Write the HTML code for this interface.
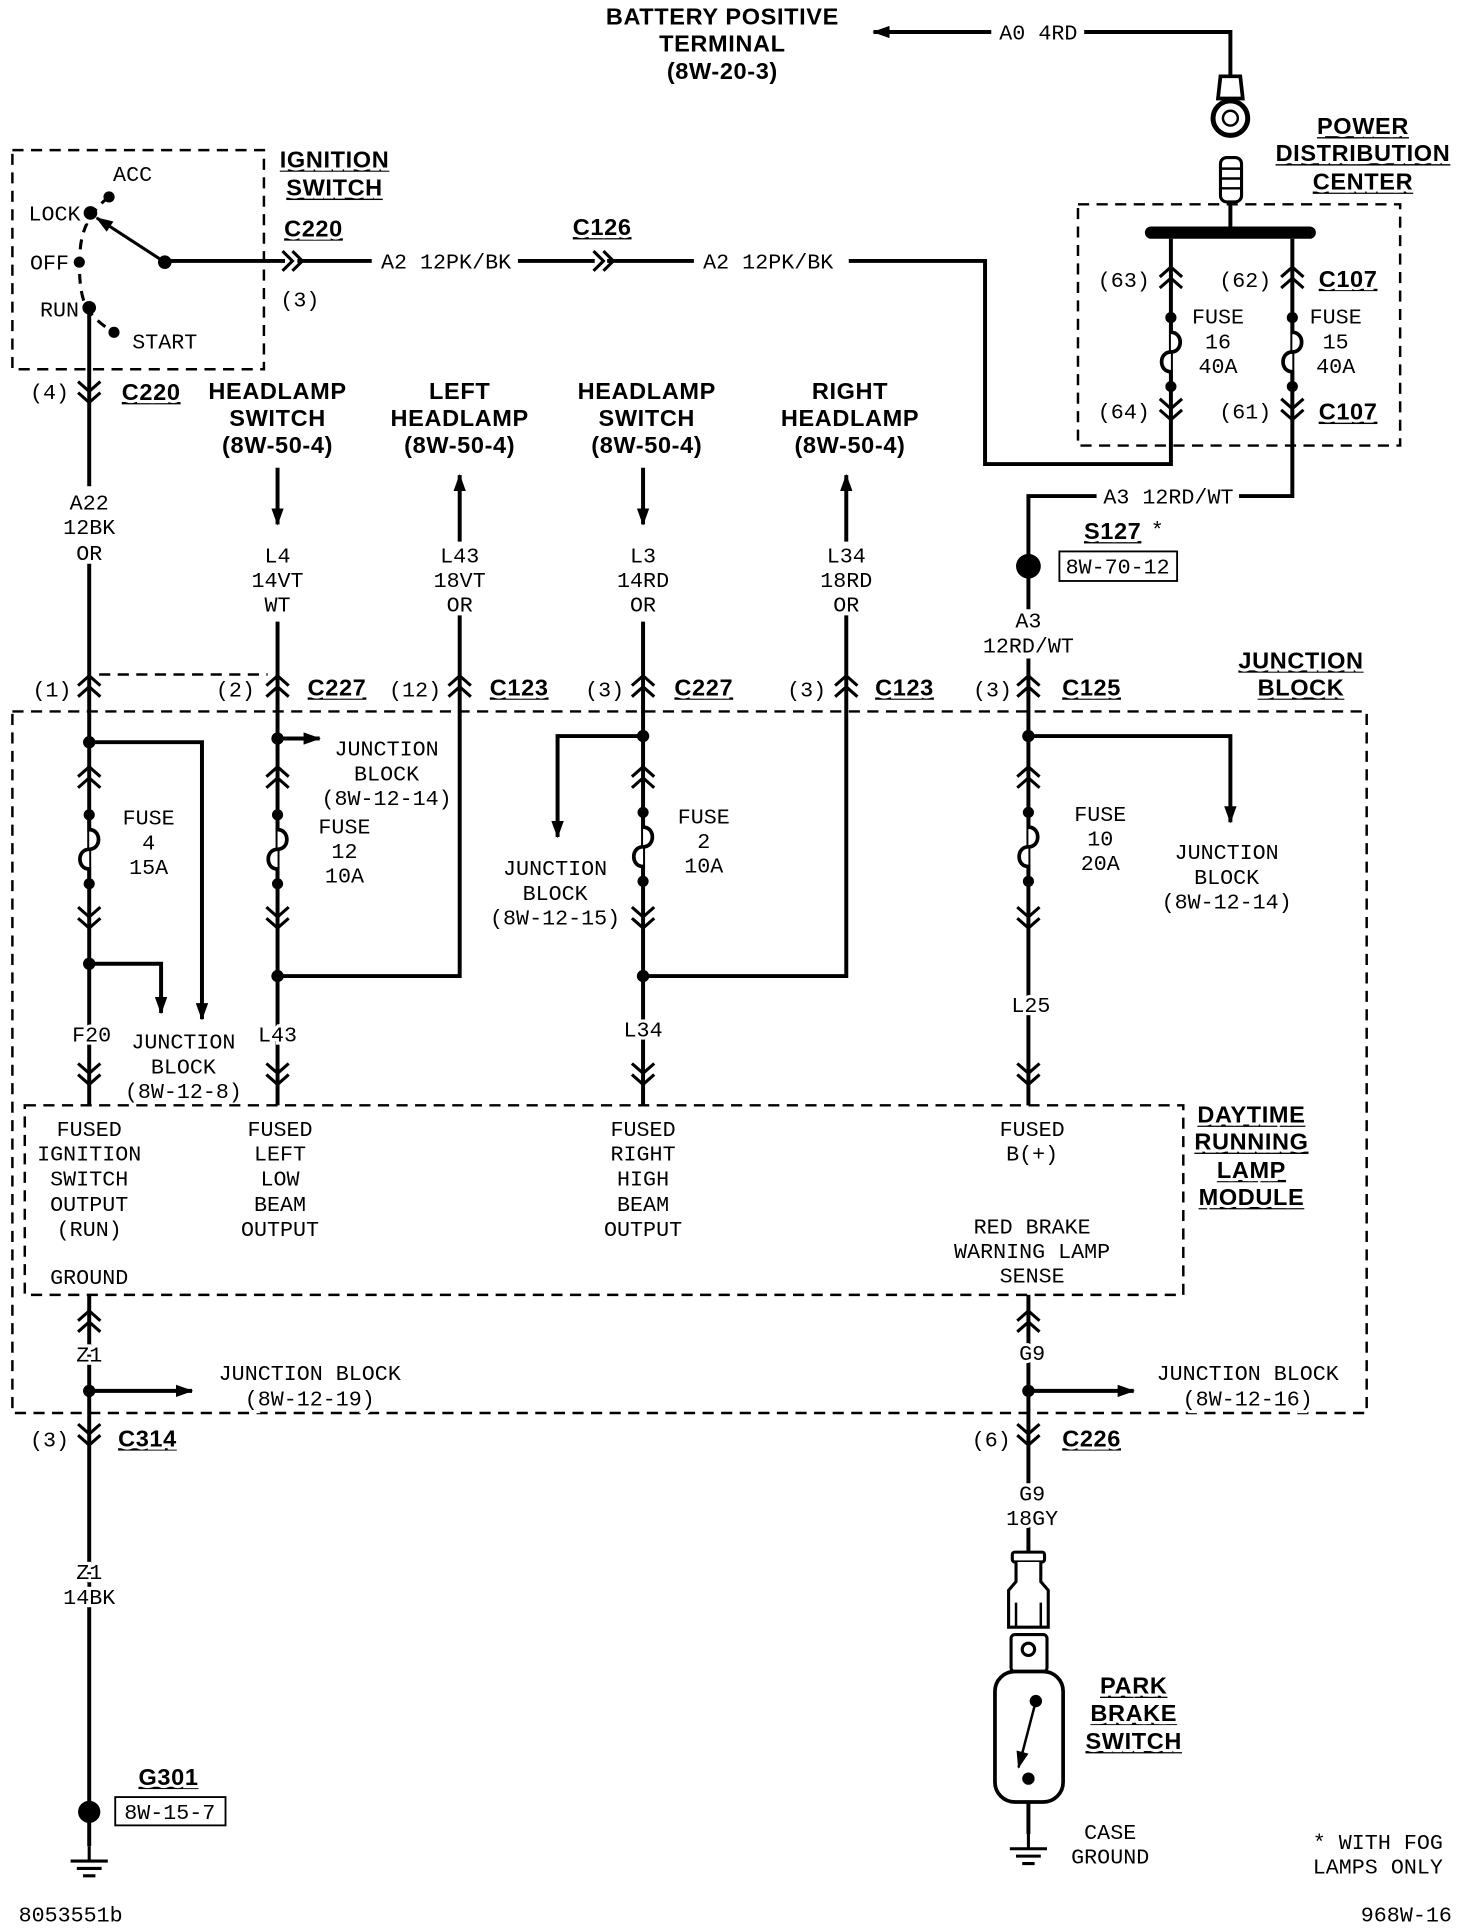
<!DOCTYPE html>
<html><head><meta charset="utf-8"><style>
html,body{margin:0;padding:0;background:#fff}
svg{display:block}
text{font-family:"Liberation Mono",monospace;font-size:17.5px;fill:#000;text-anchor:middle;stroke:#fff;stroke-width:5px;paint-order:stroke;}
text.b{font-family:"Liberation Sans",sans-serif;font-weight:bold;font-size:19px;text-decoration:underline;letter-spacing:0.5px}
text.h{font-family:"Liberation Sans",sans-serif;font-weight:bold;font-size:19px;letter-spacing:0.5px}
.w{stroke:#000;stroke-width:3.2;fill:none}
.d{stroke:#000;stroke-width:2;fill:none;stroke-dasharray:9 6}
</style></head><body>
<svg width="1472" height="1930" viewBox="0 0 1188 1568" preserveAspectRatio="none" xmlns="http://www.w3.org/2000/svg">
<defs>
<marker id="a" viewBox="0 0 14 10" markerWidth="14" markerHeight="10" refX="13" refY="5" orient="auto" markerUnits="userSpaceOnUse"><path d="M0,0 L14,5 L0,10z" fill="#000"/></marker>
<g id="cu"><path d="M-9,-1 L0,-9 L9,-1 M-9,8 L0,0 L9,8" stroke="#000" stroke-width="2.5" fill="none"/></g>
<g id="cd"><path d="M-9,-8 L0,0 L9,-8 M-9,1 L0,9 L9,1" stroke="#000" stroke-width="2.5" fill="none"/></g>
<g id="ch"><path d="M-8,-8 L0,0 L-8,8 M0,-8 L8,0 L0,8" stroke="#000" stroke-width="2.5" fill="none"/></g>
<g id="fz"><circle cx="0" cy="-28" r="4.5"/><circle cx="0" cy="28" r="4.5"/><path d="M0,-28 L0,-16 C10,-16 10,0 0,0 C-10,0 -10,16 0,16 L0,28" stroke="#000" stroke-width="3" fill="#fff"/></g>
<g id="gnd"><path d="M0,0 L0,12 M-15,12 L15,12 M-10,18 L10,18 M-5,24 L5,24" stroke="#000" stroke-width="2.5"/></g>
</defs>
<rect width="1188" height="1568" fill="#fff"/>

<text class="h" x="583" y="20">BATTERY POSITIVE</text>
<text class="h" x="583" y="42">TERMINAL</text>
<text class="h" x="583" y="64">(8W-20-3)</text>
<line class="w" x1="800" y1="26" x2="705" y2="26" marker-end="url(#a)"/>
<text x="838" y="32">A0 4RD</text>
<path class="w" d="M875,26 L993,26 L993,62"/>
<path d="M985,62 L1001,62 L1003,80 L983,80z" fill="#fff" stroke="#000" stroke-width="3"/>
<circle cx="993" cy="96" r="14" fill="#fff" stroke="#000" stroke-width="4"/>
<circle cx="993" cy="96" r="6" fill="#fff" stroke="#000" stroke-width="2"/>
<rect x="985" y="128" width="17" height="36" rx="5" fill="#fff" stroke="#000" stroke-width="2.5"/>
<path d="M985,137 L1002,137 M985,145 L1002,145 M985,153 L1002,153" stroke="#000" stroke-width="2"/>
<line class="w" x1="993" y1="164" x2="993" y2="186"/>
<rect x="924" y="184" width="138" height="10" rx="5" fill="#000"/>
<text class="b" x="1100" y="109">POWER</text>
<text class="b" x="1100" y="131">DISTRIBUTION</text>
<text class="b" x="1100" y="154">CENTER</text>
<rect class="d" x="870" y="166" width="260" height="196"/>
<path class="w" d="M945,194 L945,377 L795,377 L795,212 L685,212"/>
<use href="#cu" x="945" y="226"/><use href="#cd" x="945" y="332"/>
<use href="#fz" x="945" y="286"/>
<text x="907" y="233">(63)</text><text x="907" y="340">(64)</text>
<text x="983" y="263">FUSE</text><text x="983" y="283">16</text><text x="983" y="303">40A</text>
<path class="w" d="M1043,194 L1043,403 L1000,403"/>
<use href="#cu" x="1043" y="226"/><use href="#cd" x="1043" y="332"/>
<use href="#fz" x="1043" y="286"/>
<text x="1005" y="233">(62)</text><text x="1005" y="340">(61)</text>
<text x="1078" y="263">FUSE</text><text x="1078" y="283">15</text><text x="1078" y="303">40A</text>
<text class="b" x="1088" y="233">C107</text><text class="b" x="1088" y="341">C107</text>
<text x="943" y="409">A3 12RD/WT</text>
<path class="w" d="M885,403 L830,403 L830,455"/>
<circle cx="830" cy="460" r="10"/>
<text class="b" x="898" y="438">S127</text><text x="934" y="436">*</text>
<rect x="855" y="448" width="95" height="24" fill="#fff" stroke="#000" stroke-width="1.5"/>
<text x="902" y="466">8W-70-12</text>
<path class="w" d="M830,460 L830,495 M830,535 L830,898"/>
<text x="830" y="510">A3</text><text x="830" y="530">12RD/WT</text>

<text x="620" y="218">A2 12PK/BK</text>
<line class="w" x1="560" y1="212" x2="490" y2="212"/>
<use href="#ch" x="487" y="212"/>
<text class="b" x="486" y="191">C126</text>
<line class="w" x1="480" y1="212" x2="418" y2="212"/>
<text x="360" y="218">A2 12PK/BK</text>
<line class="w" x1="300" y1="212" x2="240" y2="212"/>
<use href="#ch" x="236" y="212"/>
<line class="w" x1="230" y1="212" x2="133" y2="212"/>
<text x="242" y="249">(3)</text>
<text class="b" x="253" y="192">C220</text>

<rect class="d" x="10" y="122" width="203" height="178"/>
<text class="b" x="270" y="136">IGNITION</text>
<text class="b" x="270" y="159">SWITCH</text>
<path d="M88,160 Q68,175 65,200 Q62,235 70,250 Q78,262 92,270" stroke="#000" stroke-width="2.5" fill="none" stroke-dasharray="8 6"/>
<circle cx="88" cy="160" r="4.5"/><circle cx="73" cy="173" r="5.5"/><circle cx="64" cy="213" r="4.5"/><circle cx="72" cy="250" r="5.5"/><circle cx="92" cy="270" r="4.5"/>
<circle cx="133" cy="213" r="5.5"/>
<line x1="133" y1="213" x2="78" y2="177" stroke="#000" stroke-width="2.5" marker-end="url(#a)"/>
<text x="107" y="147">ACC</text><text x="44" y="179">LOCK</text><text x="40" y="219">OFF</text><text x="48" y="257">RUN</text><text x="133" y="283">START</text>

<path class="w" d="M72,250 L72,395 M72,458 L72,898"/>
<use href="#cd" x="72" y="318"/>
<text x="40" y="324">(4)</text><text class="b" x="122" y="325">C220</text>
<text x="72" y="414">A22</text><text x="72" y="434">12BK</text><text x="72" y="455">OR</text>
<line class="d" x1="80" y1="548" x2="216" y2="548"/>
<use href="#cu" x="72" y="558"/><text x="42" y="566">(1)</text>
<rect class="d" x="10" y="578" width="1093" height="570"/>
<circle cx="72" cy="603" r="5"/>
<path class="w" d="M72,603 L163,603 L163,828" marker-end="url(#a)"/>
<use href="#cu" x="72" y="632"/>
<use href="#fz" x="72" y="690"/>
<use href="#cd" x="72" y="745"/>
<circle cx="72" cy="783" r="5"/>
<path class="w" d="M72,783 L130,783 L130,823" marker-end="url(#a)"/>
<text x="120" y="670">FUSE</text><text x="120" y="690">4</text><text x="120" y="710">15A</text>
<text x="74" y="846">F20</text>
<text x="148" y="852">JUNCTION</text><text x="148" y="872">BLOCK</text><text x="148" y="892">(8W-12-8)</text>
<use href="#cd" x="72" y="872"/>

<text class="h" x="224" y="324">HEADLAMP</text><text class="h" x="224" y="346">SWITCH</text><text class="h" x="224" y="368">(8W-50-4)</text>
<line class="w" x1="224" y1="380" x2="224" y2="426" marker-end="url(#a)"/>
<text x="224" y="457">L4</text><text x="224" y="477">14VT</text><text x="224" y="497">WT</text>
<path class="w" d="M224,505 L224,898"/>
<use href="#cu" x="224" y="558"/><text x="190" y="566">(2)</text><text class="b" x="272" y="565">C227</text>
<circle cx="224" cy="600" r="5"/>
<line class="w" x1="224" y1="600" x2="258" y2="600" marker-end="url(#a)"/>
<text x="312" y="614">JUNCTION</text><text x="312" y="634">BLOCK</text><text x="312" y="654">(8W-12-14)</text>
<use href="#cu" x="224" y="632"/>
<use href="#fz" x="224" y="690"/>
<use href="#cd" x="224" y="745"/>
<text x="278" y="677">FUSE</text><text x="278" y="697">12</text><text x="278" y="717">10A</text>
<circle cx="224" cy="793" r="5"/>
<path class="w" d="M224,793 L371,793 L371,500"/>
<text x="224" y="846">L43</text>
<use href="#cd" x="224" y="872"/>

<text class="h" x="371" y="324">LEFT</text><text class="h" x="371" y="346">HEADLAMP</text><text class="h" x="371" y="368">(8W-50-4)</text>
<line class="w" x1="371" y1="440" x2="371" y2="386" marker-end="url(#a)"/>
<text x="371" y="457">L43</text><text x="371" y="477">18VT</text><text x="371" y="497">OR</text>
<use href="#cu" x="371" y="558"/><text x="335" y="566">(12)</text><text class="b" x="419" y="565">C123</text>

<text class="h" x="522" y="324">HEADLAMP</text><text class="h" x="522" y="346">SWITCH</text><text class="h" x="522" y="368">(8W-50-4)</text>
<line class="w" x1="519" y1="380" x2="519" y2="426" marker-end="url(#a)"/>
<text x="519" y="457">L3</text><text x="519" y="477">14RD</text><text x="519" y="497">OR</text>
<path class="w" d="M519,505 L519,898"/>
<use href="#cu" x="519" y="558"/><text x="488" y="566">(3)</text><text class="b" x="568" y="565">C227</text>
<circle cx="519" cy="598" r="5"/>
<path class="w" d="M519,598 L450,598 L450,680" marker-end="url(#a)"/>
<text x="448" y="711">JUNCTION</text><text x="448" y="731">BLOCK</text><text x="448" y="751">(8W-12-15)</text>
<use href="#cu" x="519" y="632"/>
<use href="#fz" x="519" y="688"/>
<use href="#cd" x="519" y="745"/>
<text x="568" y="669">FUSE</text><text x="568" y="689">2</text><text x="568" y="709">10A</text>
<circle cx="519" cy="793" r="5"/>
<path class="w" d="M519,793 L683,793 L683,500"/>
<text x="519" y="842">L34</text>
<use href="#cd" x="519" y="872"/>

<text class="h" x="686" y="324">RIGHT</text><text class="h" x="686" y="346">HEADLAMP</text><text class="h" x="686" y="368">(8W-50-4)</text>
<line class="w" x1="683" y1="440" x2="683" y2="386" marker-end="url(#a)"/>
<text x="683" y="457">L34</text><text x="683" y="477">18RD</text><text x="683" y="497">OR</text>
<use href="#cu" x="683" y="558"/><text x="651" y="566">(3)</text><text class="b" x="730" y="565">C123</text>

<use href="#cu" x="830" y="558"/><text x="801" y="566">(3)</text><text class="b" x="881" y="565">C125</text>
<text class="b" x="1050" y="543">JUNCTION</text><text class="b" x="1050" y="565">BLOCK</text>
<circle cx="830" cy="598" r="5"/>
<path class="w" d="M830,598 L993,598 L993,668" marker-end="url(#a)"/>
<use href="#cu" x="830" y="632"/>
<use href="#fz" x="830" y="688"/>
<use href="#cd" x="830" y="745"/>
<text x="888" y="667">FUSE</text><text x="888" y="687">10</text><text x="888" y="707">20A</text>
<text x="990" y="698">JUNCTION</text><text x="990" y="718">BLOCK</text><text x="990" y="738">(8W-12-14)</text>
<text x="832" y="822">L25</text>
<use href="#cd" x="830" y="872"/>

<rect class="d" x="20" y="898" width="935" height="154" fill="#fff"/>
<text class="b" x="1010" y="912">DAYTIME</text><text class="b" x="1010" y="934">RUNNING</text><text class="b" x="1010" y="957">LAMP</text><text class="b" x="1010" y="979">MODULE</text>
<text x="72" y="923">FUSED</text><text x="72" y="943">IGNITION</text><text x="72" y="963">SWITCH</text><text x="72" y="984">OUTPUT</text><text x="72" y="1004">(RUN)</text><text x="72" y="1043">GROUND</text>
<text x="226" y="923">FUSED</text><text x="226" y="943">LEFT</text><text x="226" y="963">LOW</text><text x="226" y="984">BEAM</text><text x="226" y="1004">OUTPUT</text>
<text x="519" y="923">FUSED</text><text x="519" y="943">RIGHT</text><text x="519" y="963">HIGH</text><text x="519" y="984">BEAM</text><text x="519" y="1004">OUTPUT</text>
<text x="833" y="923">FUSED</text><text x="833" y="943">B(+)</text>
<text x="833" y="1002">RED BRAKE</text><text x="833" y="1022">WARNING LAMP</text><text x="833" y="1042">SENSE</text>

<path class="w" d="M72,1052 L72,1500"/>
<use href="#cu" x="72" y="1074"/>
<text x="72" y="1106">Z1</text>
<circle cx="72" cy="1130" r="5"/>
<line class="w" x1="72" y1="1130" x2="155" y2="1130" marker-end="url(#a)"/>
<text x="250" y="1121">JUNCTION BLOCK</text><text x="250" y="1142">(8W-12-19)</text>
<use href="#cd" x="72" y="1165"/>
<text x="40" y="1175">(3)</text><text class="b" x="119" y="1175">C314</text>
<text x="72" y="1283">Z1</text><text x="72" y="1303">14BK</text>
<circle cx="72" cy="1472" r="9"/>
<text class="b" x="136" y="1450">G301</text>
<rect x="93" y="1460" width="89" height="23" fill="#fff" stroke="#000" stroke-width="1.5"/>
<text x="137" y="1478">8W-15-7</text>
<use href="#gnd" x="72" y="1500"/>

<path class="w" d="M830,1052 L830,1205 M830,1240 L830,1262"/>
<use href="#cu" x="830" y="1074"/>
<text x="833" y="1105">G9</text>
<circle cx="830" cy="1130" r="5"/>
<line class="w" x1="830" y1="1130" x2="915" y2="1130" marker-end="url(#a)"/>
<text x="1007" y="1121">JUNCTION BLOCK</text><text x="1007" y="1142">(8W-12-16)</text>
<use href="#cd" x="830" y="1165"/>
<text x="800" y="1175">(6)</text><text class="b" x="881" y="1175">C226</text>
<text x="833" y="1219">G9</text><text x="833" y="1239">18GY</text>
<rect x="817" y="1261" width="26" height="8" rx="2" fill="#fff" stroke="#000" stroke-width="2.5"/>
<path d="M820,1269 L820,1285 L814,1292 L814,1322 L846,1322 L846,1292 L840,1285 L840,1269" fill="#fff" stroke="#000" stroke-width="2.5"/>
<path d="M820,1302 L820,1322 M840,1302 L840,1322" stroke="#000" stroke-width="2"/>
<rect x="816" y="1328" width="29" height="30" rx="3" fill="#fff" stroke="#000" stroke-width="2.5"/>
<circle cx="830" cy="1340" r="5" fill="#fff" stroke="#000" stroke-width="2.5"/>
<rect x="803" y="1358" width="55" height="106" rx="16" fill="#fff" stroke="#000" stroke-width="3"/>
<circle cx="836" cy="1382" r="5"/><circle cx="830" cy="1445" r="5"/>
<line x1="836" y1="1382" x2="822" y2="1436" stroke="#000" stroke-width="2" marker-end="url(#a)"/>
<line class="w" x1="830" y1="1464" x2="830" y2="1490"/>
<use href="#gnd" x="830" y="1490"/>
<text class="b" x="915" y="1376">PARK</text><text class="b" x="915" y="1398">BRAKE</text><text class="b" x="915" y="1421">SWITCH</text>
<text x="896" y="1494">CASE</text><text x="896" y="1514">GROUND</text>
<text x="1112" y="1502">* WITH FOG</text><text x="1112" y="1522">LAMPS ONLY</text>
<text x="57" y="1561">8053551b</text><text x="1135" y="1561">968W-16</text>
</svg>
</body></html>
